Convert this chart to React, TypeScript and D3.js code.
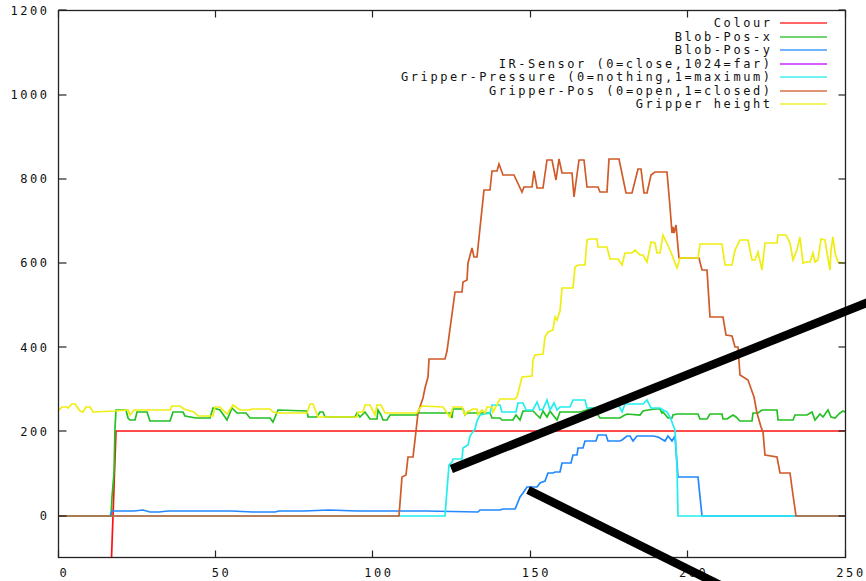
import React from "react";
import * as d3 from "d3";

type Pt = [number, number];

// ---- data (x = sample index, y = value) ----
const colourData: Pt[] = [[16, -270], [18.2, 200], [250, 200]];

const blobPosX: Pt[] = [
  [0, 0], [16.6, 0], [17, 45], [17.6, 100], [18, 207], [18.3, 251], [21.5, 251], [22, 231], [22.8, 227], [24.4, 227],
  [25, 247], [28.1, 247], [29.1, 225], [35.5, 225], [36.5, 247], [39.5, 247], [40.3, 236], [43.9, 231], [48.2, 231],
  [49.3, 255], [51.4, 251], [53.5, 227], [55.1, 255], [56.7, 243], [59.8, 243], [60.9, 231], [67.2, 231], [68.3, 223],
  [69.9, 250], [78.9, 249], [79.4, 235], [82.1, 235], [83.1, 245], [84.2, 245], [84.7, 235], [94.3, 235], [94.8, 243],
  [95.9, 235], [97.4, 247], [99, 229], [101.2, 229], [101.7, 251], [102.7, 239], [103.3, 227], [104.3, 227], [105.4, 239],
  [113.9, 239], [114.4, 247], [114.9, 243], [124.5, 243], [125, 232], [125.5, 253], [128.7, 253], [129.2, 239],
  [129.8, 243], [137.2, 243], [137.7, 231], [140.3, 231], [140.9, 227], [144.6, 227], [145.6, 239], [146.7, 227],
  [147.8, 248], [151, 248], [152, 240], [153, 231], [154.1, 248], [155.2, 235], [156.2, 248], [157.3, 239], [158.4, 227],
  [159.4, 247], [165.8, 247], [167.9, 250], [169, 255], [170, 255], [171, 247], [172.1, 231], [178.5, 231], [179.5, 237],
  [180.6, 241], [184.8, 239], [185.9, 248], [187.5, 251], [189.6, 252], [191.2, 254], [191.7, 243], [192.3, 247],
  [193.8, 231], [194.9, 231], [195.4, 239], [196.5, 241], [203.4, 241], [203.9, 229], [206, 229], [207.1, 241],
  [210.8, 241], [211.3, 229], [212.4, 229], [213.4, 235], [214.5, 239], [215.5, 235], [216.6, 225], [220.3, 225],
  [220.8, 243], [222.4, 243], [223.5, 251], [228.3, 251], [228.8, 226], [233.6, 226], [234.1, 239], [237.8, 239],
  [239.4, 247], [240.4, 227], [242, 241], [243, 235], [244.7, 251], [245.7, 233], [246.8, 231], [248.3, 243],
  [249.4, 249], [250, 246],
];

const blobPosY: Pt[] = [
  [16.5, 0], [17.2, 10], [18, 12], [22, 12], [24, 10], [27, 13], [29, 9], [32, 9], [35, 11], [45, 11], [55, 12],
  [62, 9], [69, 9], [70, 11], [78, 12], [86, 13], [95, 11], [104, 12], [110, 10], [117, 10], [133.5, 9], [134, 13],
  [140.3, 13], [141.4, 15], [145.1, 15], [145.6, 21], [146.7, 45], [147.8, 53], [148.8, 69], [152, 69], [153, 77],
  [154.6, 81], [155.7, 100], [157.3, 100], [157.8, 104], [159.4, 104], [160, 124], [163, 124], [163.7, 144],
  [164.7, 144], [165, 160], [166.8, 160], [167.4, 176], [171, 176], [171.6, 191], [174.2, 191], [174.8, 176],
  [178.5, 176], [179, 180], [180.6, 188], [181.6, 188], [182.7, 176], [184, 190], [185.9, 188], [189, 190],
  [190.5, 186], [192.8, 176], [193.8, 190], [195, 178], [196, 188], [196.8, 92], [203.4, 92], [204.4, 0], [250, 0],
];

// IR sensor readings do not appear inside the plotted range
const irSensor: Pt[] = [];

const gripperPressure: Pt[] = [
  [0, 0], [122.9, 0], [123.5, 60], [124, 120], [125, 128], [125.5, 134], [128.2, 134], [128.7, 160], [130.3, 168],
  [130.8, 190], [132.4, 205], [133, 225], [134, 240], [137.2, 243], [137.7, 262], [140.3, 262], [140.9, 245],
  [145.6, 245], [146.2, 267], [147.8, 267], [148.5, 250], [151, 250], [152, 270], [153, 250], [154, 252], [155.2, 274],
  [156.2, 250], [157.5, 268], [158.4, 250], [159.4, 258], [162.6, 258], [163.7, 274], [167.4, 274], [167.9, 255],
  [174.2, 255], [175.3, 270], [177.4, 270], [179, 247], [180, 266], [185.9, 266], [187, 274], [188.5, 255],
  [191.2, 255], [192.3, 251], [193.3, 247], [194.4, 235], [196, 203], [196.5, 116], [197, 0], [250, 0],
];

const gripperPos: Pt[] = [
  [0, 0], [108.4, 0], [109.1, 92], [110.5, 96], [111.2, 140], [112.8, 140], [113.5, 180], [114.4, 243], [115.8, 280],
  [116.5, 303], [117.6, 330], [117.9, 371], [122.9, 371], [123.4, 390], [126, 532], [128.2, 532], [128.7, 555],
  [130, 560], [130.3, 600], [131.4, 635], [132, 615], [133, 615], [134, 682], [135.3, 773], [137.2, 773], [137.7, 819],
  [139.3, 819], [140.1, 834], [141.2, 810], [144.8, 810], [147.3, 769], [148, 781], [150.4, 781], [151.2, 818],
  [152, 779], [154.1, 779], [155.2, 844], [156.8, 844], [158.2, 797], [159.2, 848], [160, 813], [163.1, 813],
  [164, 757], [165.5, 844], [167, 844], [168.1, 781], [171.6, 781], [172.1, 769], [174.3, 769], [175.1, 848],
  [178.3, 848], [180.4, 765], [182.2, 765], [184.3, 822], [185.1, 822], [186.1, 765], [187, 765], [188.2, 809],
  [189.6, 815], [193.3, 815], [194.4, 734], [194.9, 670], [195.4, 686], [195.7, 670], [196.2, 690], [197.3, 611],
  [203.7, 611], [204.5, 583], [206, 583], [207, 472], [211.3, 471], [212.2, 429], [214, 427], [215, 401], [216.1, 401],
  [216.6, 334], [219.3, 322], [221, 282], [222, 243], [223.2, 211], [224, 199], [224.7, 144], [228.4, 140],
  [229.5, 102], [232.4, 102], [233.5, 50], [234.5, 0], [250, 0],
];

const gripperHeight: Pt[] = [
  [0, 249], [1.1, 259], [2.7, 259], [3.2, 255], [4.3, 265], [5.3, 265], [6.9, 249], [7.9, 247], [8.8, 257], [10.1, 257],
  [11.1, 247], [18, 248], [22, 250], [22.8, 239], [23.9, 251], [35.5, 251], [36, 260], [38.7, 260], [40, 252], [43, 246],
  [44.5, 236], [49.3, 236], [49.8, 259], [51.4, 259], [53.5, 241], [55.6, 262], [57.7, 250], [61, 250], [61.4, 254],
  [67.3, 254], [68.3, 247], [69.4, 244], [78.9, 244], [80, 266], [81, 266], [82.6, 235], [94.8, 235], [95.3, 247],
  [96.9, 247], [97.4, 263], [99, 263], [100.6, 239], [101.2, 263], [102.7, 263], [103.7, 243], [104.3, 243],
  [113.9, 243], [114.9, 255], [115.5, 260], [122.3, 258], [124.5, 235], [125.5, 259], [128.2, 259], [129.2, 239],
  [130, 247], [131.9, 253], [132.9, 253], [133.5, 239], [134.5, 251], [135.5, 243], [136.1, 258], [137.7, 258],
  [138.2, 247], [140.3, 276], [145.1, 276], [145.7, 282], [147.2, 330], [150.4, 331], [151, 370], [151.5, 381],
  [154.1, 384], [154.7, 425], [155.7, 437], [157.3, 441], [157.8, 472], [158.4, 465], [159.4, 487], [160, 540],
  [163.7, 540], [164.2, 591], [165.2, 595], [167.4, 595], [167.9, 654], [169, 658], [171.1, 658], [171.6, 639],
  [174.3, 637], [175.3, 609], [177.8, 609], [179, 595], [180.1, 624], [182.2, 624], [183.2, 631], [184.8, 619],
  [185.9, 619], [187, 603], [188.5, 650], [189.5, 647], [190.1, 623], [191.2, 623], [192.2, 666], [194.4, 631],
  [196.5, 587], [197.5, 611], [203.4, 611], [203.9, 645], [210.8, 645], [211.8, 595], [214, 595], [215, 631],
  [216.6, 654], [219.3, 654], [220.3, 607], [221.3, 607], [222.4, 627], [223.5, 583], [224.5, 647], [228.3, 647],
  [228.8, 666], [231.4, 666], [232.5, 647], [233.6, 607], [234.6, 631], [235.7, 662], [236.7, 599], [237.7, 603],
  [238.9, 603], [239.9, 623], [240.4, 603], [241.5, 607], [242.5, 656], [243.6, 654], [244.1, 639], [245.2, 583],
  [245.7, 631], [246.3, 662], [246.8, 623], [247.8, 603], [249.4, 599], [250, 600],
];

const seriesNames = [
  "Colour",
  "Blob-Pos-x",
  "Blob-Pos-y",
  "IR-Sensor (0=close,1024=far)",
  "Gripper-Pressure (0=nothing,1=maximum)",
  "Gripper-Pos (0=open,1=closed)",
  "Gripper height",
];
const seriesData: Pt[][] = [colourData, blobPosX, blobPosY, irSensor, gripperPressure, gripperPos, gripperHeight];
const seriesColors = ["#ff1010", "#22c022", "#2288ff", "#c000ff", "#22eeee", "#d05a28", "#eeee10"];

const xTicks = [0, 50, 100, 150, 200, 250];
const yTicks = [0, 200, 400, 600, 800, 1000, 1200];

// hand-drawn annotation strokes on the image (data coordinates)
const annotations: [Pt, Pt][] = [
  [[124.9, 110.7], [261.1, 517.7]],
  [[149.3, 60.8], [216.6, -188.3]],
];

const W = 866;
const H = 581;
const L = 58.3, R = 845, T = 10.3, B = 557.7;

const snapH = (v: number) => Math.round(v - 0.5) + 0.5;

export default function App() {
  const x = d3.scaleLinear().domain([0, 250]).range([L, R]);
  const y = d3.scaleLinear().domain([-100, 1200]).range([B, T]);
  const line = d3.line<Pt>().x((d) => Math.round(x(d[0]))).y((d) => Math.round(y(d[1])));
  const font = { fontFamily: "'DejaVu Sans Mono', monospace", fontSize: 12, letterSpacing: 2.55 } as const;
  const bl = snapH(L), br = snapH(R), bt = snapH(T), bb = snapH(B);

  return (
    <svg width={W} height={H} style={{ position: "absolute", left: 0, top: 0, background: "#fff" }}>
      <defs>
        <clipPath id="plot">
          <rect x={bl} y={bt} width={br - bl} height={bb - bt} />
        </clipPath>
      </defs>
      <rect x={0} y={0} width={W} height={H} fill="#fff" />
      {/* data lines */}
      <g clipPath="url(#plot)" fill="none" strokeLinejoin="miter">
        {seriesData.map((d, i) =>
          d.length ? <path key={i} d={line(d) || ""} stroke={seriesColors[i]} strokeWidth={1.7} /> : null
        )}
      </g>
      {/* border */}
      <rect x={bl} y={bt} width={br - bl} height={bb - bt} fill="none" stroke="#222" strokeWidth={1.3} />
      {/* ticks */}
      <g stroke="#222" strokeWidth={1.2}>
        {xTicks.map((t) => (
          <g key={"xt" + t}>
            <line x1={snapH(x(t))} x2={snapH(x(t))} y1={bb} y2={bb - 7} />
            <line x1={snapH(x(t))} x2={snapH(x(t))} y1={bt} y2={bt + 7} />
          </g>
        ))}
        {yTicks.map((t) => (
          <g key={"yt" + t}>
            <line x1={bl} x2={bl + 8} y1={Math.round(y(t))} y2={Math.round(y(t))} />
            <line x1={br} x2={br - 7} y1={Math.round(y(t))} y2={Math.round(y(t))} />
          </g>
        ))}
      </g>
      {/* tick labels */}
      <g style={font} fill="#111">
        {xTicks.map((t) => (
          <text key={"xl" + t} x={x(t) + 6} y={577} textAnchor="middle">
            {t}
          </text>
        ))}
        {yTicks.map((t) => (
          <text key={"yl" + t} x={49.5} y={y(t) + 4.5} textAnchor="end">
            {t}
          </text>
        ))}
      </g>
      {/* legend */}
      <g style={font}>
        {seriesNames.map((n, i) => {
          const ly = Math.round(23.3 + i * 13.5);
          return (
            <g key={n}>
              <text x={772.5} y={ly + 4} textAnchor="end" fill="#111">
                {n}
              </text>
              <line x1={780} x2={827} y1={ly} y2={ly} stroke={seriesColors[i]} strokeWidth={1.7} opacity={0.85} />
            </g>
          );
        })}
      </g>
      {/* annotation strokes */}
      <g stroke="#000" strokeWidth={8.5} strokeLinecap="butt">
        {annotations.map((a, i) => (
          <line key={i} x1={x(a[0][0])} y1={y(a[0][1])} x2={x(a[1][0])} y2={y(a[1][1])} />
        ))}
      </g>
    </svg>
  );
}
